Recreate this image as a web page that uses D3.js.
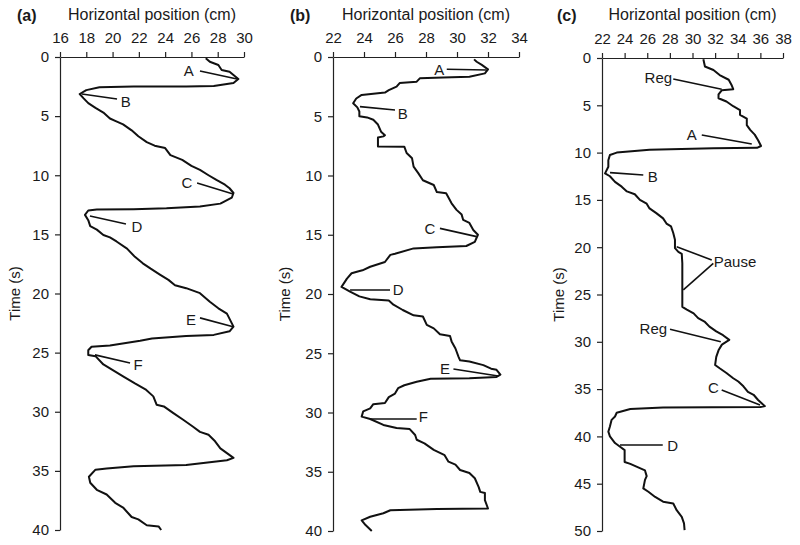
<!DOCTYPE html>
<html><head><meta charset="utf-8">
<script src="https://cdn.jsdelivr.net/npm/d3@7"></script>
<style>
body{margin:0;background:#fff;}
text{font-family:"Liberation Sans",Arial,sans-serif;fill:#1a1a1a;}
</style></head>
<body>
<svg id="chart" width="800" height="545"></svg>
<script>
// ---------- DATA ----------
// Panel (a)
const aTime = [0.1,0.4,0.68,1.1,1.24,1.52,1.86,2.2,2.45,2.5,2.5,2.55,2.8,3.13,3.5,3.9,4.3,4.7,5.2,5.4,5.7,6.2,6.7,7.2,7.5,7.7,8.3,8.7,9.2,9.55,10.0,10.4,10.8,11.1,11.5,11.9,12.4,12.65,12.8,12.87,12.9,12.98,13.35,13.8,14.3,14.6,15.05,15.25,15.6,16.2,16.9,17.45,17.9,18.4,18.85,19.3,19.55,19.97,20.7,21.25,21.7,22.8,23.2,23.5,23.6,23.8,24.0,24.4,24.5,24.8,25.2,25.3,26.0,26.5,27.0,27.6,28.1,28.7,29.4,29.55,30.1,30.7,31.25,31.7,31.95,32.5,33.1,33.5,33.9,34.1,34.5,34.6,34.8,34.9,35.5,36.0,36.6,37.0,37.7,38.1,38.9,39.1,39.6,39.7,40.0];
const aPos  = [27.09,27.4,28.05,28.3,28.9,29.2,29.57,29.2,27.7,25.6,21.6,19.0,18.0,17.5,17.8,18.15,18.7,19.3,19.8,20.2,20.8,21.45,21.96,22.6,23.2,24.0,24.4,25.3,26.0,26.65,27.3,27.9,28.55,28.9,29.2,29.07,28.2,26.65,24.1,21.6,18.8,18.15,17.9,18.15,18.3,18.8,19.3,19.8,20.3,21.1,21.7,22.3,22.9,23.6,24.25,24.75,25.6,26.65,27.4,28.05,28.7,29.2,28.9,27.7,25.6,23.0,22.1,19.8,18.4,18.15,18.15,18.7,19.3,20.05,20.8,21.7,22.5,23.1,23.35,23.9,24.6,25.4,26.1,26.65,27.3,27.8,28.2,28.7,29.2,28.7,25.6,21.6,19.55,18.7,18.2,18.3,18.8,19.55,20.2,20.8,21.45,21.96,22.6,23.5,23.7];
// Panel (b)
const bTime = [0.2,0.4,0.67,1.04,1.38,1.66,1.72,1.8,2.08,2.2,2.5,2.8,3.0,3.2,3.5,3.9,4.25,4.6,5.0,5.1,5.3,5.7,6.3,6.6,6.7,6.8,7.55,7.57,8.1,8.55,9.25,9.8,10.4,10.8,11.4,11.5,12.35,12.9,13.3,13.75,14.0,14.6,15.0,15.6,15.95,16.05,16.15,16.6,16.7,17.3,17.7,18.0,18.1,18.25,18.7,19.4,19.8,20.2,20.45,20.55,20.9,21.35,21.8,21.9,22.6,22.9,23.4,23.55,24.0,24.6,25.3,25.6,25.7,26.0,26.3,26.4,26.8,27.0,27.1,27.15,27.4,27.7,27.95,28.4,28.7,29.2,29.3,29.65,29.9,30.35,30.55,31.05,31.3,31.4,31.9,32.3,32.6,33.15,33.6,34.15,34.4,34.85,35.1,35.55,36.3,36.7,36.8,37.4,38.1,38.15,38.25,38.5,38.8,39.1,39.5,40.0];
const bPos  = [31.1,31.27,31.6,32.0,31.8,30.8,29.1,27.6,27.4,26.3,26.1,25.6,25.35,23.85,23.5,23.3,23.57,23.7,23.7,24.2,24.6,24.9,25.1,25.35,25.25,24.9,24.9,26.6,26.75,27.1,27.2,27.5,27.8,28.5,28.7,29.3,29.65,29.97,30.3,30.4,30.8,31.05,31.35,31.15,30.6,28.7,27.2,26.0,25.7,25.35,24.4,23.9,23.6,23.2,22.9,22.55,23.1,23.7,24.4,25.6,25.9,26.5,27.2,27.8,28.05,28.5,28.9,29.55,29.65,29.9,30.1,30.2,30.8,31.7,32.2,32.55,32.8,32.55,30.8,28.3,27.4,26.6,26.2,26.0,25.6,25.35,24.6,24.4,23.95,23.85,24.4,25.25,26.1,26.95,27.3,27.4,27.9,28.5,29.2,29.45,29.9,30.2,30.8,31.15,31.4,31.5,31.8,31.8,32.0,28.7,25.7,25.25,24.4,23.85,24.1,24.5];
// Panel (c)
const cTime = [0.14,0.9,1.27,1.8,2.3,2.85,3.3,3.4,3.85,4.25,4.6,5.1,5.5,6.0,6.4,7.1,7.6,8.1,8.7,9.3,9.5,9.55,9.7,10.0,10.25,10.8,11.5,12.2,12.5,13.1,13.6,14.1,14.4,15.0,15.4,15.9,16.4,16.95,17.5,17.8,18.5,19.2,20.1,20.5,20.7,21.7,22.4,24.5,26.3,26.6,27.0,27.5,27.9,28.4,28.9,29.3,29.8,30.3,30.9,31.6,32.45,32.8,33.3,33.85,34.2,34.7,35.3,35.6,36.15,36.8,36.9,36.95,37.1,37.5,37.9,38.25,38.95,39.5,40.0,40.7,41.1,41.45,42.7,42.9,43.2,43.6,44.2,44.6,45.5,45.85,46.4,46.9,47.1,47.8,48.5,49.2,49.9];
const cPos  = [30.96,31.1,31.85,32.4,33.2,33.45,33.6,32.6,32.3,32.3,33.0,33.6,34.2,34.2,34.8,34.8,35.1,35.5,35.8,36.06,35.7,31.85,26.2,23.3,22.7,22.56,22.56,22.27,22.7,23.15,23.74,24.2,24.9,25.35,25.95,26.2,26.8,27.4,27.7,28.1,28.3,28.45,28.45,28.75,29.05,29.1,29.1,29.1,29.1,29.5,30.1,30.5,31.1,31.5,32.1,32.7,33.25,32.6,32.3,32.1,32.0,32.4,33.0,33.6,34.05,34.5,34.9,35.4,35.8,36.4,36.0,27.4,24.5,23.3,23.15,22.85,22.7,22.56,22.7,23.15,23.6,24.0,24.0,24.5,25.05,25.8,25.95,25.8,25.65,26.1,26.7,27.4,28.3,28.6,29.05,29.25,29.3];

// Axis tick labels
const aTicksX = [16,18,20,22,24,26,28,30];
const bTicksX = [22,24,26,28,30,32,34];
const cTicksX = [22,24,26,28,30,32,34,36,38];
const aTicksY = [0,5,10,15,20,25,30,35,40];
const cTicksY = [0,5,10,15,20,25,30,35,40,45,50];

// Annotations: [label, labelPos, labelTime, lineFromPos, lineFromTime, lineToPos, lineToTime]
const aNotes = [
  ["A",25.8,1.18,26.65,1.18,29.47,1.86],
  ["B",21.0,3.8,20.34,3.55,17.67,3.13],
  ["C",25.66,10.65,26.43,10.65,29.17,11.58],
  ["D",21.86,14.37,21.02,14.12,18.28,13.44],
  ["E",25.97,22.23,26.65,22.06,29.17,22.82],
  ["F",21.94,26.04,21.33,25.87,18.66,25.19]
];
const bNotes = [
  ["A",28.86,1.04,29.34,1.04,31.92,1.1],
  ["B",26.5,4.75,26.0,4.47,23.74,4.19],
  ["C",28.26,14.46,28.9,14.46,31.27,15.16],
  ["D",26.21,19.66,25.68,19.66,23.1,19.66],
  ["E",29.23,26.27,29.77,26.33,32.66,26.92],
  ["F",27.83,30.35,27.4,30.55,24.39,30.55]
];
const cNotes = [
  ["Reg",26.98,2.04,28.3,2.22,32.58,3.31],
  ["A",29.93,8.14,30.82,8.14,35.24,9.09],
  ["B",26.48,12.55,25.65,12.37,22.71,12.12],
  ["Pause",33.76,21.53,31.7,21.35,28.6,19.95],
  ["",null,null,31.84,21.7,29.19,24.52],
  ["Reg",26.54,28.57,28.01,28.68,32.5,29.99],
  ["C",31.84,34.81,32.58,35.1,35.97,36.68],
  ["D",28.25,40.98,27.37,40.91,23.59,40.91]
];

// ---------- DRAW ----------
const svg = d3.select("#chart");
const FS = 15;
const panels = [
  {tag:"(a)", pos:aPos, time:aTime, xt:aTicksX, yt:aTicksY, notes:aNotes, x0:60, x1:244, y0:57, y1:530, tagX:17, labX:15},
  {tag:"(b)", pos:bPos, time:bTime, xt:bTicksX, yt:aTicksY, notes:bNotes, x0:333, x1:519, y0:57, y1:531, tagX:290, labX:285},
  {tag:"(c)", pos:cPos, time:cTime, xt:cTicksX, yt:cTicksY, notes:cNotes, x0:602, x1:783, y0:58, y1:531, tagX:557, labX:559}
];

panels.forEach(p => {
  const x = d3.scaleLinear().domain(d3.extent(p.xt)).range([p.x0, p.x1]);
  const y = d3.scaleLinear().domain(d3.extent(p.yt)).range([p.y0, p.y1]);
  const g = svg.append("g");

  const xa = g.append("g").attr("transform", `translate(0,${p.y0})`)
    .call(d3.axisTop(x).tickValues(p.xt).tickSize(5).tickSizeOuter(0).tickPadding(9));
  const ya = g.append("g").attr("transform", `translate(${p.x0},0)`)
    .call(d3.axisLeft(y).tickValues(p.yt).tickSize(5).tickSizeOuter(0).tickPadding(6));
  [xa, ya].forEach(a => {
    a.selectAll("path,line").attr("stroke", "#222").attr("stroke-width", 1.2);
    a.selectAll("text").attr("font-size", FS).attr("fill", "#1a1a1a")
      .attr("font-family", '"Liberation Sans",Arial,sans-serif');
  });

  g.append("text").attr("x", (p.x0 + p.x1) / 2).attr("y", 20)
    .attr("text-anchor", "middle").attr("font-size", 16).text("Horizontal position (cm)");
  g.append("text").attr("x", p.tagX).attr("y", 21)
    .attr("font-size", 16).attr("font-weight", "bold").text(p.tag);
  g.append("text").attr("transform", `translate(${p.labX},${(p.y0 + p.y1) / 2}) rotate(-90)`)
    .attr("text-anchor", "middle").attr("dy", "0.35em").attr("font-size", FS).text("Time (s)");

  const pts = p.time.map((t, i) => [p.pos[i], t]);
  g.append("path").datum(pts)
    .attr("fill", "none").attr("stroke", "#111").attr("stroke-width", 2)
    .attr("stroke-linejoin", "round")
    .attr("d", d3.line().x(d => x(d[0])).y(d => y(d[1])));

  p.notes.forEach(n => {
    g.append("line")
      .attr("x1", x(n[3])).attr("y1", y(n[4])).attr("x2", x(n[5])).attr("y2", y(n[6]))
      .attr("stroke", "#111").attr("stroke-width", 1.6);
    if (n[0]) {
      g.append("text").attr("x", x(n[1])).attr("y", y(n[2])).attr("dy", "0.36em")
        .attr("text-anchor", "middle").attr("font-size", FS).text(n[0]);
    }
  });
});
</script>
</body></html>
